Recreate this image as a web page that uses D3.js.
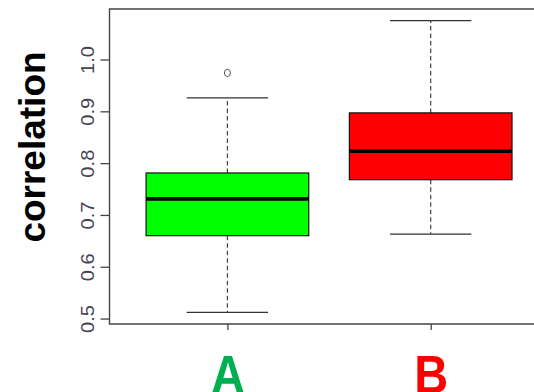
<!DOCTYPE html>
<html>
<head>
<meta charset="utf-8">
<script src="https://cdn.jsdelivr.net/npm/d3@7"></script>
<style>
  html, body { margin: 0; padding: 0; background: #fff; }
  svg { display: block; }
</style>
</head>
<body>
<svg id="chart" width="534" height="392"></svg>
<script>
// Groups and their five-number summaries
const categories = ["A", "B"];
const whiskerLow  = [0.512, 0.663];
const q1          = [0.660, 0.768];
const median      = [0.731, 0.823];
const q3          = [0.781, 0.897];
const whiskerHigh = [0.926, 1.075];
const outliers    = [[0.974], []];
const fillColors  = ["#00ff00", "#ff0000"];
const labelColors = ["#00b050", "#ff0000"];
const yTicks = [0.5, 0.6, 0.7, 0.8, 0.9, 1.0];

const svg = d3.select("#chart");
const plot = { left: 109.5, top: 9, right: 548.6, bottom: 324 };

const x = d3.scaleLinear().domain([0.42, 2.58]).range([plot.left, plot.right]);
const y = d3.scaleLinear().domain([0.4895, 1.0975]).range([plot.bottom, plot.top]);

const boxHalf = 0.4, capHalf = 0.2;
const axisColor = "#444";

// Boxes
categories.forEach((c, i) => {
  const cx = x(i + 1);
  const g = svg.append("g");
  // whiskers (dashed)
  g.append("line")
    .attr("x1", cx).attr("x2", cx)
    .attr("y1", y(q3[i])).attr("y2", y(whiskerHigh[i]))
    .attr("stroke", "#444").attr("stroke-width", 1.2)
    .attr("stroke-dasharray", "4.5,3");
  g.append("line")
    .attr("x1", cx).attr("x2", cx)
    .attr("y1", y(q1[i])).attr("y2", y(whiskerLow[i]))
    .attr("stroke", "#444").attr("stroke-width", 1.2)
    .attr("stroke-dasharray", "4.5,3");
  // caps
  [whiskerLow[i], whiskerHigh[i]].forEach(v => {
    g.append("line")
      .attr("x1", x(i + 1 - capHalf)).attr("x2", x(i + 1 + capHalf))
      .attr("y1", y(v)).attr("y2", y(v))
      .attr("stroke", "#333").attr("stroke-width", 1.3);
  });
  // box
  g.append("rect")
    .attr("x", x(i + 1 - boxHalf))
    .attr("y", y(q3[i]))
    .attr("width", x(i + 1 + boxHalf) - x(i + 1 - boxHalf))
    .attr("height", y(q1[i]) - y(q3[i]))
    .attr("fill", fillColors[i])
    .attr("stroke", "#111").attr("stroke-width", 1.2);
  // median
  g.append("line")
    .attr("x1", x(i + 1 - boxHalf)).attr("x2", x(i + 1 + boxHalf))
    .attr("y1", y(median[i])).attr("y2", y(median[i]))
    .attr("stroke", "#000").attr("stroke-width", 3.6);
  // outliers
  outliers[i].forEach(v => {
    g.append("ellipse")
      .attr("cx", cx).attr("cy", y(v))
      .attr("rx", 3).attr("ry", 3.6)
      .attr("fill", "none").attr("stroke", "#555").attr("stroke-width", 1);
  });
});

// Frame
svg.append("path")
  .attr("d", `M${plot.right},${plot.top}H${plot.left}V${plot.bottom}H${plot.right}`)
  .attr("fill", "none").attr("stroke", axisColor).attr("stroke-width", 1.4);

// Y axis
const yAxis = svg.append("g")
  .attr("transform", `translate(${plot.left},0)`)
  .call(d3.axisLeft(y).tickValues(yTicks).tickSize(9).tickFormat(d3.format(".1f")));
yAxis.select(".domain").remove();
yAxis.selectAll(".tick line").attr("stroke", axisColor).attr("stroke-width", 1.3);
yAxis.selectAll(".tick text")
  .attr("x", null).attr("dy", null)
  .attr("transform", "translate(-16,0) rotate(-90) scale(1.12,1)")
  .attr("text-anchor", "middle")
  .attr("fill", "#445")
  .style("font-family", "Liberation Sans, Arial, sans-serif")
  .style("font-size", "18px");

// X axis: large group letters, slightly tall, sitting on the bottom edge
const xAxis = svg.append("g")
  .attr("transform", `translate(0,${plot.bottom})`)
  .call(d3.axisBottom(x).tickValues([1, 2]).tickSize(6).tickFormat(d => categories[d - 1]));
xAxis.select(".domain").remove();
xAxis.selectAll(".tick line").attr("stroke", axisColor).attr("stroke-width", 1.3);
xAxis.selectAll(".tick text")
  .attr("y", 0).attr("dy", null)
  .attr("transform", "translate(0,68.5) scale(1,1.16)")
  .attr("fill", (d) => labelColors[d - 1])
  .style("font-family", "Liberation Sans, Arial, sans-serif")
  .style("font-weight", "bold")
  .style("font-size", "47px");

// Y title
svg.append("text")
  .attr("transform", `translate(45,147) rotate(-90)`)
  .attr("text-anchor", "middle")
  .style("font-family", "Liberation Sans, Arial, sans-serif")
  .style("font-weight", "bold")
  .style("font-size", "37px")
  .attr("fill", "#000")
  .text("correlation");
</script>
</body>
</html>
